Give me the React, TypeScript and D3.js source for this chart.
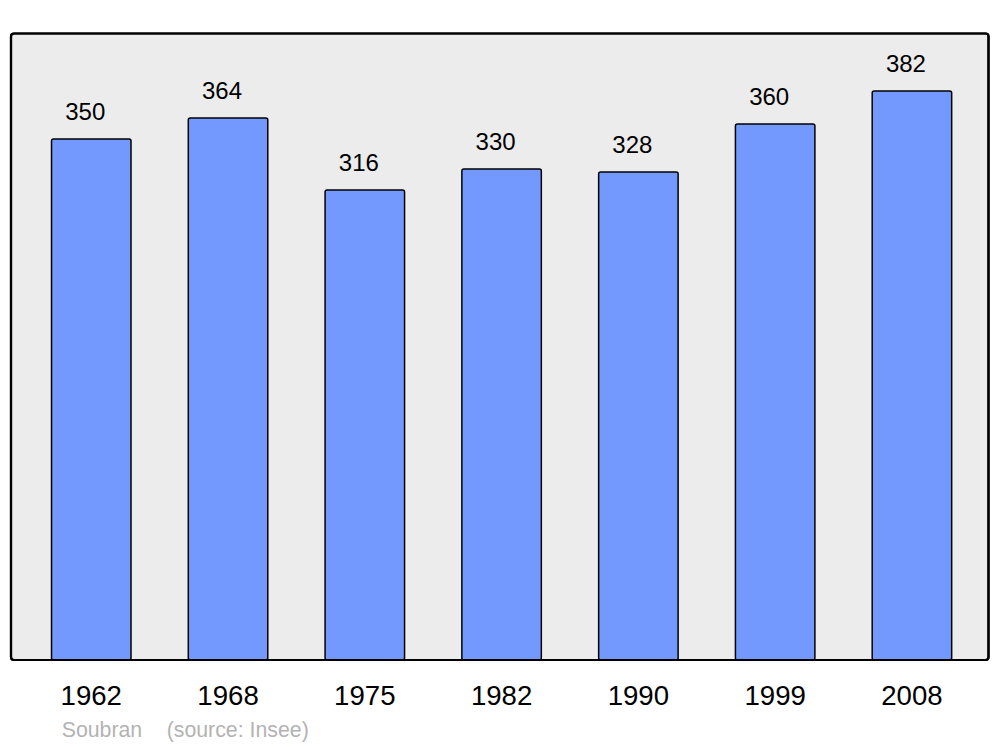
import React from "react";
import * as d3 from "d3";

const years = ["1962", "1968", "1975", "1982", "1990", "1999", "2008"];
const population = [350, 364, 316, 330, 328, 360, 382];
const commune = "Soubran";
const source = "(source: Insee)";

export default function App() {
  const W = 1000, H = 747;
  const panel = { x: 11, y: 33.5, w: 977.5, h: 626.5 };
  const x = d3.scaleBand<string>().domain(years).range([22.8, 980.4]).paddingInner(0.419).paddingOuter(0.21);
  const y = d3.scaleLinear().domain([0, d3.max(population)! * 1.1]).range([664, 33.7]);
  const bottom = panel.y + panel.h;
  const font = "'Liberation Sans', Arial, sans-serif";
  return (
    <svg width={W} height={H} style={{ position: "absolute", left: 0, top: 0 }}>
      <rect x={0} y={0} width={W} height={H} fill="#ffffff" />
      <rect x={panel.x} y={panel.y} width={panel.w} height={panel.h} rx={3} ry={3} fill="#ececec" stroke="#000" strokeWidth={2.2} />
      {years.map((yr, i) => {
        const v = population[i];
        const bx = x(yr)!;
        const bw = x.bandwidth();
        const top = y(v);
        return (
          <g key={yr}>
            <rect x={bx} y={top} width={bw} height={bottom - top} rx={2} ry={2} fill="#7399ff" stroke="#000" strokeWidth={1.5} />
            <text x={bx + bw / 2 - 6} y={top - 19.5} textAnchor="middle" fontFamily={font} fontSize={24} fill="#000">{v}</text>
            <text x={bx + bw / 2} y={705} textAnchor="middle" fontFamily={font} fontSize={27.6} fill="#000">{yr}</text>
          </g>
        );
      })}
      <rect x={panel.x} y={panel.y} width={panel.w} height={panel.h} rx={3} ry={3} fill="none" stroke="#000" strokeWidth={2.2} />
      <text x={61.7} y={736.7} fontFamily={font} fontSize={21.3} fill="#b3b3b3">{commune}</text>
      <text x={166.7} y={736.7} fontFamily={font} fontSize={21.3} fill="#b3b3b3">{source}</text>
    </svg>
  );
}
